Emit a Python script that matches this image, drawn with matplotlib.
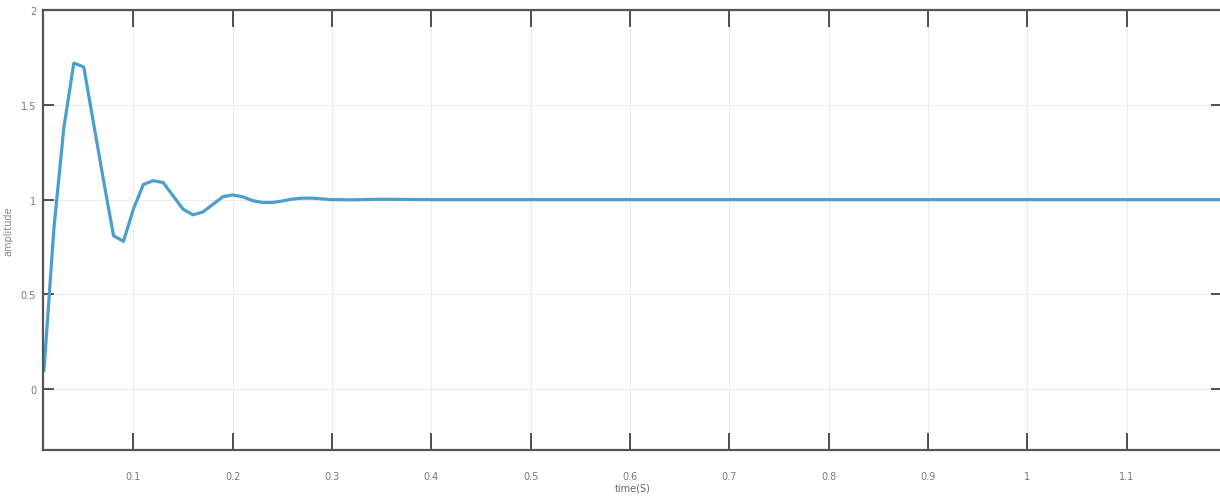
import matplotlib
matplotlib.use('Agg')
import matplotlib.pyplot as plt
import numpy as np

# response
t = [0.01, 0.02, 0.03, 0.04, 0.05, 0.06, 0.07, 0.08, 0.09, 0.10,
     0.11, 0.12, 0.13, 0.14, 0.15, 0.16, 0.17, 0.18, 0.19, 0.20,
     0.21, 0.22, 0.23, 0.24, 0.25, 0.26, 0.27, 0.28, 0.29, 0.30,
     0.32, 0.35, 0.40, 0.45, 0.50, 0.60, 0.70, 0.80, 0.90, 1.00,
     1.10, 1.20]
amp = [0.10, 0.85, 1.38, 1.72, 1.70, 1.40, 1.10, 0.81, 0.78, 0.95,
       1.08, 1.10, 1.09, 1.02, 0.95, 0.92, 0.935, 0.975, 1.015, 1.025,
       1.015, 0.995, 0.985, 0.985, 0.993, 1.003, 1.008, 1.008, 1.004, 1.0,
       0.999, 1.002, 1.0, 1.0, 1.0, 1.0, 1.0, 1.0, 1.0, 1.0,
       1.0, 1.0]

xticks = [0.1, 0.2, 0.3, 0.4, 0.5, 0.6, 0.7, 0.8, 0.9, 1, 1.1]
xticklabels = ['0.1', '0.2', '0.3', '0.4', '0.5', '0.6', '0.7', '0.8', '0.9', '1', '1.1']
yticks = [0, 0.5, 1, 1.5, 2]
yticklabels = ['0', '0.5', '1', '1.5', '2']

fig = plt.figure(figsize=(12.2, 5.02), dpi=100)
ax = fig.add_axes([43 / 1220, 1 - 451 / 502, 1179 / 1220, 440 / 502])

ax.plot(t, amp, color='#4a9fd0', linewidth=2.3)

ax.set_xlim(0.009, 1.196)
ax.set_ylim(-0.32, 2)
ax.set_xticks(xticks)
ax.set_xticklabels(xticklabels)
ax.set_yticks(yticks)
ax.set_yticklabels(yticklabels)
ax.tick_params(axis='x', direction='in', length=12, width=1.2, colors='#333333',
               labelcolor='#777777', labelsize=7, top=True, pad=15)
ax.tick_params(axis='y', direction='in', length=8, width=1.2, colors='#333333',
               labelcolor='#777777', labelsize=7, right=True, pad=5)
ax.grid(True, color='#ececec', linewidth=0.8)
for s in ax.spines.values():
    s.set_color('#555555')
    s.set_linewidth(1.6)

ax.set_xlabel('time(S)', fontsize=7, color='#666666', labelpad=1)
ax.set_ylabel('amplitude', fontsize=7, color='#888888')
ax.yaxis.set_label_coords(-0.025, 0.5)

fig.savefig('out.png', dpi=100)
